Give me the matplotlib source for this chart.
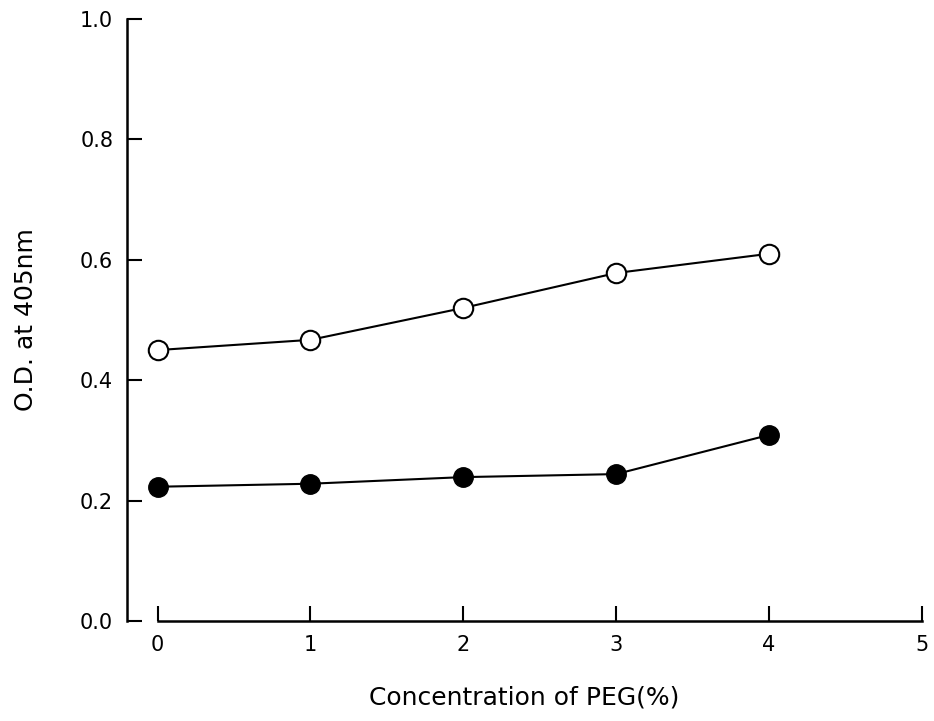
import matplotlib.pyplot as plt

# PEG konsantrasyonu (%) ve O.D. değerleri
peg = [0, 1, 2, 3, 4]
od_acik = [0.450, 0.467, 0.520, 0.578, 0.610]
od_dolu = [0.223, 0.228, 0.239, 0.244, 0.309]

x_ticks = [0, 1, 2, 3, 4, 5]
y_ticks = [0.0, 0.2, 0.4, 0.6, 0.8, 1.0]

fig = plt.figure(figsize=(9.34, 7.21), dpi=100)
ax = fig.add_axes([0.136, 0.1387, 0.851, 0.835])

ax.plot(peg, od_acik, color='black', linewidth=1.5, marker='o', markersize=14,
        markerfacecolor='white', markeredgecolor='black', markeredgewidth=1.5, clip_on=False)
ax.plot(peg, od_dolu, color='black', linewidth=1.5, marker='o', markersize=14,
        markerfacecolor='black', markeredgecolor='black', clip_on=False)

ax.set_xlim(-0.2, 5)
ax.set_ylim(0, 1.0)
ax.spines['top'].set_visible(False)
ax.spines['right'].set_visible(False)
ax.spines['bottom'].set_bounds(0, 5)
for s in ['left', 'bottom']:
    ax.spines[s].set_linewidth(1.8)

ax.set_xticks(x_ticks)
ax.set_xticklabels([str(t) for t in x_ticks])
ax.set_yticks(y_ticks)
ax.set_yticklabels([f"{t:.1f}" for t in y_ticks])
ax.tick_params(direction='in', length=11, width=1.5, labelsize=15, pad=10)

ax.set_xlabel('Concentration of PEG(%)', fontsize=18, labelpad=22)
ax.set_ylabel('O.D. at 405nm', fontsize=18, labelpad=30)

plt.savefig('out.png', dpi=100)
